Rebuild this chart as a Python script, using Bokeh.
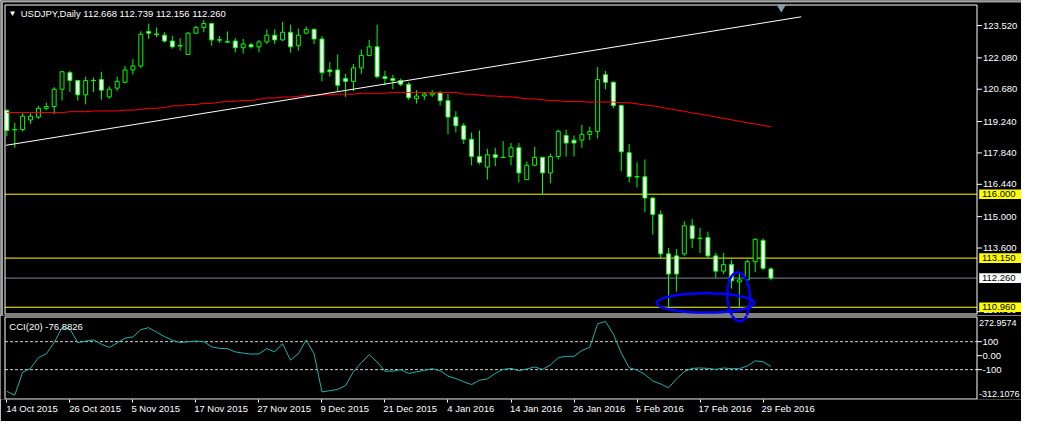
import numpy as np
from bokeh.plotting import figure
from bokeh.layouts import column
from bokeh.models import ColumnDataSource, FixedTicker, Label, Range1d
from bokeh.core.properties import value
from bokeh.embed import file_html
from bokeh.resources import INLINE

# ---------------- data ----------------
chart_title = "USDJPY,Daily 112.668 112.739 112.156 112.260"
cci_title = "CCI(20) -76.8826"

opens = [119.74, 118.88, 118.88, 119.31, 119.44, 119.83, 119.91, 120.68, 121.42, 121.07,
         120.43, 121.07, 121.11, 120.34, 120.73, 120.99, 121.54, 121.72, 123.26, 123.13,
         123.09, 122.83, 122.62, 122.23, 123.18, 123.43, 123.61, 122.88, 122.79, 122.83,
         122.53, 122.66, 122.57, 122.79, 123.09, 122.88, 123.22, 122.62, 123.18, 123.35,
         122.92, 121.54, 121.54, 121.16, 121.03, 121.63, 122.19, 122.57, 121.24, 121.16,
         121.07, 120.90, 120.26, 120.38, 120.43, 120.51, 120.17, 119.44, 119.05, 118.45,
         117.68, 117.21, 117.76, 117.64, 117.68, 118.07, 116.65, 117.29, 117.64, 116.95,
         117.68, 118.62, 118.41, 118.41, 118.67, 118.80, 121.33, 120.99, 119.95, 117.85,
         116.78, 116.78, 115.83, 115.10, 113.34, 113.25, 113.34, 114.59, 114.03, 114.07,
         113.25, 112.57, 112.87, 112.09, 112.18, 112.99, 113.94, 112.668]
highs = [119.78, 119.18, 119.61, 119.61, 119.95, 120.08, 120.77, 121.50, 121.50, 121.07,
         121.24, 121.20, 121.46, 120.81, 121.24, 121.72, 122.02, 123.26, 123.61, 123.43,
         123.22, 123.05, 122.96, 123.22, 123.52, 123.78, 123.65, 123.05, 123.26, 122.96,
         122.92, 122.75, 122.88, 123.35, 123.35, 123.69, 123.56, 123.39, 123.48, 123.39,
         123.05, 121.89, 122.23, 121.37, 121.80, 122.45, 122.88, 123.56, 121.50, 121.33,
         121.16, 120.99, 120.64, 120.56, 120.64, 120.60, 120.47, 119.70, 119.18, 118.75,
         118.84, 118.02, 118.07, 118.37, 118.28, 118.28, 117.46, 118.11, 117.68, 117.81,
         118.88, 118.88, 118.62, 119.10, 119.01, 121.67, 121.50, 121.03, 120.00, 118.24,
         117.42, 117.55, 115.87, 115.27, 113.60, 113.55, 114.80, 114.89, 114.50, 114.33,
         113.38, 113.38, 113.08, 112.44, 113.08, 114.03, 114.03, 112.739]
lows = [118.58, 118.07, 118.80, 119.14, 119.35, 119.74, 119.57, 120.17, 120.56, 120.17,
        120.00, 120.56, 120.21, 120.26, 120.60, 120.94, 121.33, 121.63, 122.92, 123.00,
        122.75, 122.49, 122.40, 122.23, 123.18, 123.22, 122.62, 122.75, 122.79, 122.32,
        122.27, 122.49, 122.32, 122.70, 122.70, 122.83, 122.32, 122.40, 123.13, 122.70,
        121.03, 121.24, 120.60, 120.34, 120.60, 121.37, 122.15, 121.16, 120.86, 120.68,
        120.81, 120.21, 120.04, 120.21, 120.34, 119.95, 118.67, 118.75, 118.24, 117.29,
        117.33, 116.65, 117.25, 117.64, 117.29, 116.52, 116.65, 117.25, 115.96, 116.48,
        117.55, 117.68, 117.68, 118.07, 118.41, 118.49, 120.68, 119.83, 117.03, 116.52,
        116.30, 115.19, 114.20, 113.12, 110.98, 111.66, 113.25, 113.60, 113.38, 113.17,
        112.27, 112.44, 111.79, 110.98, 111.92, 112.52, 112.61, 112.156]
closes = [118.84, 118.88, 119.48, 119.48, 119.83, 119.91, 120.68, 121.46, 121.07, 120.43,
          121.07, 121.07, 120.64, 120.68, 121.03, 121.54, 121.72, 123.13, 123.18, 123.13,
          122.83, 122.57, 122.62, 123.18, 123.43, 123.61, 122.88, 122.88, 122.79, 122.53,
          122.70, 122.57, 122.79, 123.09, 122.88, 123.22, 122.57, 123.09, 123.35, 122.92,
          121.42, 121.46, 120.86, 121.03, 121.63, 122.19, 122.57, 121.24, 121.16, 121.07,
          120.90, 120.30, 120.38, 120.47, 120.51, 120.17, 119.44, 119.05, 118.45, 117.68,
          117.42, 117.76, 117.64, 117.64, 118.07, 116.95, 117.29, 117.64, 116.95, 117.68,
          118.80, 118.28, 118.28, 118.67, 118.80, 121.11, 120.99, 119.95, 117.89, 116.78,
          116.78, 115.83, 115.10, 113.34, 112.44, 112.44, 114.59, 114.03, 114.03, 113.25,
          112.57, 112.87, 112.14, 112.18, 112.99, 113.99, 112.70, 112.260]
ma_values = [119.64, 119.64, 119.64, 119.64, 119.64, 119.64, 119.64, 119.64, 119.68, 119.68,
             119.68, 119.71, 119.71, 119.71, 119.71, 119.75, 119.75, 119.78, 119.83, 119.83,
             119.87, 119.94, 119.94, 120.00, 120.00, 120.05, 120.05, 120.10, 120.14, 120.14,
             120.18, 120.18, 120.23, 120.29, 120.29, 120.33, 120.33, 120.37, 120.40, 120.40,
             120.43, 120.43, 120.46, 120.46, 120.46, 120.50, 120.50, 120.50, 120.50, 120.54,
             120.54, 120.54, 120.54, 120.54, 120.54, 120.54, 120.54, 120.54, 120.46, 120.46,
             120.42, 120.38, 120.38, 120.34, 120.34, 120.30, 120.25, 120.25, 120.21, 120.17,
             120.17, 120.13, 120.13, 120.13, 120.10, 120.11, 120.11, 120.11, 120.08, 120.08,
             120.03, 119.98, 119.94, 119.88, 119.81, 119.75, 119.70, 119.62, 119.57, 119.51,
             119.44, 119.38, 119.32, 119.25, 119.18, 119.13, 119.07, 119.00]
cci_values = [-255, -282, -118, -91, -14, 13, 93, 200, 191, 93,
              104, 113, 82, 59, 91, 125, 134, 186, 200, 168,
              136, 111, 93, 100, 104, 100, 63, 52, 50, 27,
              18, 11, 13, 50, 27, 86, -32, 13, 113, 13,
              -259, -250, -241, -214, -114, -50, 7, -45, -111, -111,
              -100, -127, -116, -105, -93, -107, -146, -164, -186, -207,
              -175, -166, -127, -98, -91, -107, -95, -81, -98, -67,
              -14, -5, -5, 37, 60, 228, 244, 153, 19, -86,
              -102, -135, -181, -202, -230, -167, -114, -91, -88, -91,
              -98, -88, -93, -93, -74, -37, -44, -76.88]

date_labels = ["14 Oct 2015", "26 Oct 2015", "5 Nov 2015", "17 Nov 2015", "27 Nov 2015",
               "9 Dec 2015", "21 Dec 2015", "4 Jan 2016", "14 Jan 2016", "26 Jan 2016",
               "5 Feb 2016", "17 Feb 2016", "29 Feb 2016"]
date_bars = [0, 8, 16, 24, 32, 40, 48, 56, 64, 72, 80, 88, 96]

price_ticks = [123.52, 122.08, 120.68, 119.24, 117.84, 116.44, 115.00, 113.60, 110.76]
level_prices = [116.000, 113.150, 110.960]
bid_price = 112.260

trend_x = [-0.125, 100.85]
trend_y = [118.18, 123.91]

cci_min, cci_max = -312.1076, 272.9574
cci_levels = [100, -100]
cci_mid_ticks = [100, 0, -100]
cci_mid_labels = ["100", "0.00", "-100"]

# hand-drawn highlight ellipses (bar index, price units)
ell_x = [88.7, 92.9]
ell_y = [111.15, 111.43]
ell_w = [12.4, 2.9]
ell_h = [0.86, 2.19]
ell_a = [0.0, 0.05]

# ---------------- layout (reference pixels mapped onto a 1021x421 canvas) ----------------
FONT = "Liberation Sans"
FS = "9.5px"
GREEN = "#00FF00"
W, H = 1021, 421
SX, SY = W / 1037, H / 437
BAR = 8 * SX
X0 = -(6.5 * SX) / BAR


def bx(px):
    return X0 + px / BAR


H1 = 315
PPY = 23.28 * SY
P_TOP = 123.52 + 26 * SY / PPY


def py(px):
    return P_TOP - px / PPY


H2, AX2 = 106, 22
FH2 = H2 - AX2
T2, B2 = 329 * SY, 414 * SY
PPC = (B2 - T2) / (cci_max - cci_min)


def cy(px):
    return cci_max - (px - T2) / PPC


def crisp(v):
    return np.floor(v) + 0.5


PL, PR = bx(crisp(5 * SX)), bx(crisp(992 * SX))
xr = Range1d(bx(0), bx(W))

n = len(opens)
idx = np.arange(n)
o = np.array(opens); c = np.array(closes)
hi = np.array(highs); lo = np.array(lows)
bull = c >= o
src = ColumnDataSource(dict(x=idx, top=np.maximum(o, c), bottom=np.minimum(o, c),
                            high=hi, low=lo, fill=np.where(bull, "black", "white")))
doji = np.abs(o - c) < 0.005
dsrc = ColumnDataSource(dict(x0=idx[doji] - 0.3, x1=idx[doji] + 0.3, y=o[doji]))


def base(p):
    p.grid.grid_line_color = None
    p.outline_line_color = None


# ---------------- main price pane ----------------
p1 = figure(width=W, height=H1, x_range=xr, y_range=Range1d(py(H1), py(0)), title=None,
            tools="", toolbar_location=None, output_backend="svg",
            x_axis_location=None, y_axis_location=None,
            background_fill_color="black", border_fill_color="black",
            min_border_left=0, min_border_right=0, min_border_top=0, min_border_bottom=0)
base(p1)

# window frame edges
p1.quad(left=[bx(0)], right=[bx(W)], bottom=[py(2)], top=[py(0)],
        fill_color="#A0A0A0", line_color=None)
p1.quad(left=[bx(0)], right=[bx(2.5)], bottom=[py(H1)], top=[py(0)],
        fill_color="#A0A0A0", line_color=None)

# horizontal objects
p1.segment(x0=PL, x1=PR, y0=level_prices, y1=level_prices, line_color="#FFFF00", line_width=1)
p1.segment(x0=PL, x1=PR, y0=[bid_price], y1=[bid_price], line_color="#778899", line_width=1)

# candles
p1.segment(x0="x", y0="low", x1="x", y1="high", source=src, line_color=GREEN, line_width=1)
p1.vbar(x="x", width=0.5, top="top", bottom="bottom", fill_color="fill",
        line_color=GREEN, line_width=1, source=src)
p1.segment(x0="x0", y0="y", x1="x1", y1="y", source=dsrc, line_color=GREEN, line_width=1)

p1.line(idx, ma_values, line_color="#FF0000", line_width=1)
p1.line(trend_x, trend_y, line_color="white", line_width=1)

# pane border
p1.quad(left=[PL], right=[PR], bottom=[py(crisp(325 * SY))], top=[py(crisp(5 * SY))],
        fill_alpha=0, line_color="white", line_width=1)

p1.ellipse(x=ell_x, y=ell_y, width=ell_w, height=ell_h, angle=ell_a,
           fill_alpha=0, line_color="#0000FF", line_width=2.5)

# chart-shift marker
p1.scatter(x=[bx(793 * SX)], y=[py(7 * SY)], marker="inverted_triangle", size=8,
           fill_color="#8899AA", line_color="#8899AA")

# price scale (right)
p1.segment(x0=PR, x1=bx(981.5), y0=price_ticks, y1=price_ticks, line_color="white")
label_floor = py(309.0)
p1.text(x=[bx(982.5)] * len(price_ticks), y=[max(v, label_floor) for v in price_ticks],
        text=[f"{v:.3f}" for v in price_ticks], text_font=value(FONT),
        text_font_size=value(FS), text_color="white", text_baseline="middle",
        text_align="left")
box_prices = level_prices + [bid_price]
box_colors = ["#FFFF00"] * len(level_prices) + ["white"]
half = 5 * SY / PPY
p1.quad(left=bx(978.7), right=bx(W), bottom=[v - half for v in box_prices],
        top=[v + half for v in box_prices], fill_color=box_colors, line_color=None)
p1.text(x=[bx(981.5)] * len(box_prices), y=box_prices,
        text=[f"{v:.3f}" for v in box_prices], text_font=value(FONT),
        text_font_size=value(FS), text_color="black", text_baseline="middle",
        text_align="left")

p1.add_layout(Label(x=bx(8 * SX), y=py(13 * SY), text="\u25BC", text_font=FONT,
                    text_font_size="8px", text_color="white", text_baseline="middle"))
p1.add_layout(Label(x=bx(20.5 * SX), y=py(13 * SY), text=chart_title, text_font=FONT,
                    text_font_size=FS, text_color="white", text_baseline="middle"))

# ---------------- CCI pane ----------------
p2 = figure(width=W, height=H2, x_range=xr, y_range=Range1d(cy(H1 + FH2), cy(H1)),
            title=None, tools="", toolbar_location=None, output_backend="svg",
            y_axis_location=None, background_fill_color="black",
            border_fill_color="black", min_border_left=0, min_border_right=0,
            min_border_top=0, min_border_bottom=AX2)
base(p2)

p2.segment(x0=PL, x1=PR, y0=cci_levels, y1=cci_levels, line_color="#D3D3D3",
           line_width=1, line_dash="3 2")
p2.line(idx, cci_values, line_color="#20B2AA", line_width=1)
p2.quad(left=[PL], right=[PR], bottom=[cy(crisp(414 * SY))], top=[cy(crisp(329 * SY))],
        fill_alpha=0, line_color="white", line_width=1)

# lower part of the tall highlight ellipse, continuing into this pane
e_cpx = (P_TOP - ell_y[1]) * PPY
e_hpx = ell_h[1] * PPY
p2.ellipse(x=[ell_x[1]], y=[cy(e_cpx)], width=[ell_w[1]], height=[e_hpx / PPC],
           angle=[ell_a[1]], fill_alpha=0, line_color="#0000FF", line_width=2.5)

p2.segment(x0=PR, x1=bx(981.5), y0=cci_mid_ticks, y1=cci_mid_ticks, line_color="white")
p2.text(x=[bx(982.0)] * len(cci_mid_ticks), y=cci_mid_ticks, text=cci_mid_labels,
        text_font=value(FONT), text_font_size=value(FS), text_color="white",
        text_baseline="middle", text_align="left")
p2.text(x=[bx(978.5)] * 2, y=[cy(335 * SY), cy(408 * SY)],
        text=[f"{cci_max:.4f}", f"{cci_min:.4f}"],
        text_font=value(FONT), text_font_size=value("9px"), text_color="white",
        text_baseline="middle", text_align="left")

p2.add_layout(Label(x=bx(9 * SX), y=cy(338 * SY), text=cci_title, text_font=FONT,
                    text_font_size=FS, text_color="white", text_baseline="middle"))

# date axis: each label starts at its bar's tick
label_centers = [b + (4.75 * len(s) / 2 - 1) / BAR for b, s in zip(date_bars, date_labels)]
ax = p2.xaxis[0]
ax.ticker = FixedTicker(ticks=label_centers, minor_ticks=date_bars)
ax.major_label_overrides = {t: s for t, s in zip(label_centers, date_labels)}
ax.axis_line_color = None
ax.major_tick_line_color = None
ax.major_tick_out = 0
ax.major_tick_in = 0
ax.minor_tick_line_color = "white"
ax.minor_tick_out = 3
ax.minor_tick_in = 0
ax.major_label_standoff = 0
ax.major_label_text_color = "white"
ax.major_label_text_font = FONT
ax.major_label_text_font_size = FS

layout = column(p1, p2, spacing=0)
open("out.html", "w").write(file_html(layout, INLINE))
